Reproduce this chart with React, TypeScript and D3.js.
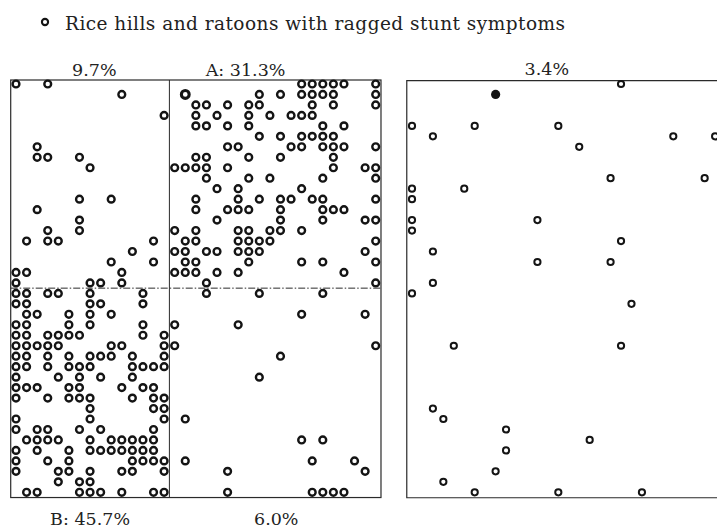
import React from 'react';
import * as d3 from 'd3';

// Survey of rice hills (grid of hill positions: column, row) showing ragged stunt symptoms.
const legendText = 'Rice hills and ratoons with ragged stunt symptoms';

// Section labels (incidence per block)
const blockLabels = ['9.7%', 'A: 31.3%', 'B: 45.7%', '6.0%', '3.4%'];

// Left field: 35 columns x 40 rows; each entry lists the columns of affected hills in that row.
const leftFieldRows: number[][] = [
  [0, 3, 27, 28, 29, 30, 31, 34],
  [10, 16, 23, 25, 27, 28, 29, 30, 34],
  [17, 18, 20, 22, 23, 28, 30, 34],
  [14, 17, 19, 22, 24, 26, 27, 28],
  [17, 18, 20, 22, 29, 31],
  [23, 25, 27, 28, 29, 30],
  [2, 20, 21, 26, 27, 29, 30, 31, 34],
  [2, 3, 6, 17, 18, 22, 25, 30],
  [7, 15, 16, 17, 18, 20, 30, 33, 34],
  [18, 22, 24, 29, 34],
  [19, 21, 27],
  [6, 9, 17, 21, 23, 25, 26, 28, 29, 34],
  [2, 17, 20, 21, 22, 25, 29, 30, 31],
  [6, 19, 25, 29, 33, 34],
  [3, 6, 15, 17, 21, 22, 24, 25, 27],
  [1, 3, 4, 13, 16, 17, 21, 22, 23, 24, 34],
  [11, 15, 16, 18, 19, 21, 22, 23, 33],
  [9, 13, 16, 17, 22, 27, 29, 34],
  [0, 1, 10, 15, 16, 17, 19, 21, 31],
  [0, 7, 8, 10, 18, 34],
  [0, 1, 3, 4, 7, 12, 18, 23, 29],
  [0, 1, 7, 8, 12],
  [1, 2, 5, 7, 9, 27, 33],
  [0, 1, 5, 7, 12, 15, 21],
  [0, 1, 3, 4, 5, 6, 12, 14],
  [0, 1, 2, 3, 4, 9, 10, 14, 15, 34],
  [0, 1, 3, 5, 7, 8, 9, 11, 14, 25],
  [0, 1, 3, 5, 6, 7, 11, 12, 13, 14],
  [0, 4, 6, 8, 11, 23],
  [0, 1, 2, 5, 6, 10, 12, 13],
  [0, 3, 5, 6, 7, 11, 13, 14],
  [7, 13, 14],
  [0, 7, 14, 16],
  [0, 2, 3, 6, 8, 13],
  [1, 2, 3, 4, 7, 9, 10, 11, 12, 13, 27, 29],
  [0, 2, 5, 7, 8, 9, 10, 11, 12, 13],
  [0, 3, 5, 11, 12, 13, 14, 16, 28, 32],
  [0, 4, 5, 7, 10, 11, 14, 20, 33],
  [4, 6, 7],
  [1, 2, 6, 7, 8, 10, 13, 14, 20, 28, 29, 30, 31],
];

// Right field: same row layout, columns of affected hills.
const rightFieldRows: number[][] = [
  [20], [8], [], [], [0, 6, 14], [2, 25, 29], [16], [], [], [19, 28],
  [0, 5], [0], [], [0, 12], [0], [20], [2], [12, 19], [], [2],
  [0], [21], [], [], [], [4, 20], [], [], [], [],
  [], [2], [3], [9], [17], [9], [], [8], [3], [6, 14, 22],
];

// Hills drawn with a heavier ring (left field) and a solid dot (right field): [column, row]
const heavyHills: [number, number][] = [[16, 1]];
const solidHills: [number, number][] = [[8, 1]];

const W = 717;
const H = 530;
const ink = '#141414';
const font = '"DejaVu Serif", "Liberation Serif", serif';

export default function App() {
  const rowY = d3.scaleLinear().domain([0, 39]).range([84, 492.3]);
  const leftX = d3.scaleLinear().domain([0, 34]).range([16, 375.7]);
  const rightX = d3.scaleLinear().domain([0, 29]).range([412, 715.1]);

  const isIn = (list: [number, number][], c: number, r: number) =>
    list.some(([a, b]) => a === c && b === r);

  const leftFrame = {
    x0: leftX(-0.5),
    x1: leftX(34.5),
    y0: 80,
    y1: rowY(39.5),
  };
  const splitX = leftX(14.5);
  const splitY = rowY(19.5);
  const rightX0 = rightX(-0.5);

  const leftPts = leftFieldRows.flatMap((cols, r) => cols.map((c) => ({ c, r })));
  const rightPts = rightFieldRows.flatMap((cols, r) => cols.map((c) => ({ c, r })));

  const labelPos: [number, number][] = [
    [leftX(7.4), 76],
    [leftX(21.7), 76],
    [leftX(7), 525],
    [leftX(24.6), 525],
    [rightX(12.9), 75],
  ];

  return (
    <svg
      width={W}
      height={H}
      viewBox={`0 0 ${W} ${H}`}
      style={{ position: 'absolute', left: 0, top: 0, background: '#fff' }}
    >
      <rect x={0} y={0} width={W} height={H} fill="#fff" />

      {/* legend */}
      <circle cx={45} cy={22} r={3.1} fill="none" stroke={ink} strokeWidth={2.1} />
      <text
        x={65}
        y={29.5}
        fontFamily={font}
        fontSize={18.5}
        fill="#222"
        textLength={500}
        lengthAdjust="spacing"
      >
        {legendText}
      </text>

      {/* left field frame */}
      <g fill="none" stroke="#2a2a2a">
        <rect
          x={leftFrame.x0}
          y={leftFrame.y0}
          width={leftFrame.x1 - leftFrame.x0}
          height={leftFrame.y1 - leftFrame.y0}
          strokeWidth={1.2}
        />
        <line x1={splitX} x2={splitX} y1={leftFrame.y0} y2={leftFrame.y1} strokeWidth={1} />
        <line
          x1={leftFrame.x0}
          x2={leftFrame.x1}
          y1={splitY}
          y2={splitY}
          strokeWidth={1}
          strokeDasharray="7 2 1.5 2"
        />
        {/* right field frame (open on the right) */}
        <path
          d={`M${W + 2},${leftFrame.y0 + 0.7} L${rightX0},${leftFrame.y0 + 0.7} L${rightX0},${leftFrame.y1 + 0.2} L${W + 2},${leftFrame.y1 + 0.2}`}
          strokeWidth={1.2}
        />
      </g>

      {/* left field hills */}
      <g>
        {leftPts.map(({ c, r }) => {
          const heavy = isIn(heavyHills, c, r);
          return (
            <circle
              key={`l${c}-${r}`}
              cx={leftX(c)}
              cy={rowY(r)}
              r={heavy ? 3.9 : 3.4}
              fill="none"
              stroke={ink}
              strokeWidth={heavy ? 3.1 : 2.4}
            />
          );
        })}
      </g>

      {/* right field hills */}
      <g>
        {rightPts.map(({ c, r }) => {
          const solid = isIn(solidHills, c, r);
          return solid ? (
            <circle key={`r${c}-${r}`} cx={rightX(c)} cy={rowY(r)} r={4.6} fill={ink} />
          ) : (
            <circle
              key={`r${c}-${r}`}
              cx={rightX(c)}
              cy={rowY(r)}
              r={3.1}
              fill="none"
              stroke={ink}
              strokeWidth={2}
            />
          );
        })}
      </g>

      {/* block labels */}
      <g fontFamily={font} fontSize={17.5} fill="#222" textAnchor="middle">
        {blockLabels.map((t, i) => (
          <text key={t} x={labelPos[i][0]} y={labelPos[i][1]}>
            {t}
          </text>
        ))}
      </g>
    </svg>
  );
}
